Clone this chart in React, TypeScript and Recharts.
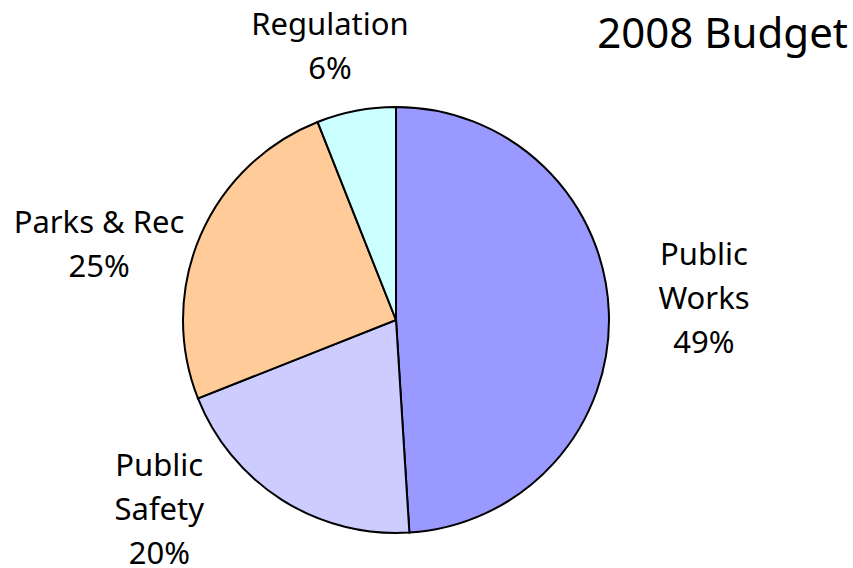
import {Cell, Pie, PieChart} from "recharts";

const categories: string[] = ['Public Works', 'Public Safety', 'Parks & Rec', 'Regulation'];
const shares: number[] = [49, 20, 25, 6];
const labelLines: string[][] = [['Public', 'Works'], ['Public', 'Safety'], ['Parks & Rec'], ['Regulation']];
const colors: string[] = ['#9999ff', '#ccccff', '#ffcc99', '#ccffff'];

const budgetData = categories.map((name, i) => ({name, value: shares[i]}));

// where Excel put each label: angle (deg) and distance (x outer radius) from centre
const labelSpots: Record<string, {angle: number; dist: number}> = {
  'Public Works': {angle: 4.3, dist: 1.45},
  'Public Safety': {angle: -141.5, dist: 1.42},
  'Parks & Rec': {angle: 165.5, dist: 1.44},
  'Regulation': {angle: 103.5, dist: 1.328},
};

const FONT = '"Noto Sans", sans-serif';
const LINE_H = 44;

const renderLabel = (props: any) => {
  const {cx, cy, outerRadius, index, percent} = props;
  const name = categories[index];
  const spot = labelSpots[name];
  const rad = (spot.angle * Math.PI) / 180;
  const x = cx + Math.cos(rad) * outerRadius * spot.dist;
  const y = cy - Math.sin(rad) * outerRadius * spot.dist;
  const lines = [...labelLines[index], `${Math.round(percent * 100)}%`];
  const top = y - ((lines.length - 1) * LINE_H) / 2;
  return (
    <g>
      {lines.map((line, i) => (
        <text
          key={i}
          x={x}
          y={top + i * LINE_H}
          textAnchor="middle"
          dominantBaseline="central"
          fill="#000"
          fontSize={31}
          fontFamily={FONT}
        >
          {line}
        </text>
      ))}
    </g>
  );
};

export default function BudgetPie() {
  return (
    <div style={{position: 'relative', width: 853, height: 568, background: '#fff'}}>
      <style>{'body{margin:0}'}</style>
      <PieChart width={853} height={568} margin={{top: 0, right: 0, bottom: 0, left: 0}}>
        <Pie
          data={budgetData}
          dataKey="value"
          nameKey="name"
          cx={396}
          cy={320}
          outerRadius={213}
          startAngle={90}
          endAngle={-270}
          stroke="#000"
          strokeWidth={2}
          label={renderLabel}
          labelLine={false}
          isAnimationActive={false}
        >
          {budgetData.map((d, i) => (
            <Cell key={d.name} fill={colors[i]}/>
          ))}
        </Pie>
      </PieChart>
      <div
        style={{
          position: 'absolute',
          right: 5,
          top: 4,
          fontFamily: FONT,
          fontSize: 42,
          lineHeight: '56px',
          color: '#000',
        }}
      >
        2008 Budget
      </div>
    </div>
  );
}
